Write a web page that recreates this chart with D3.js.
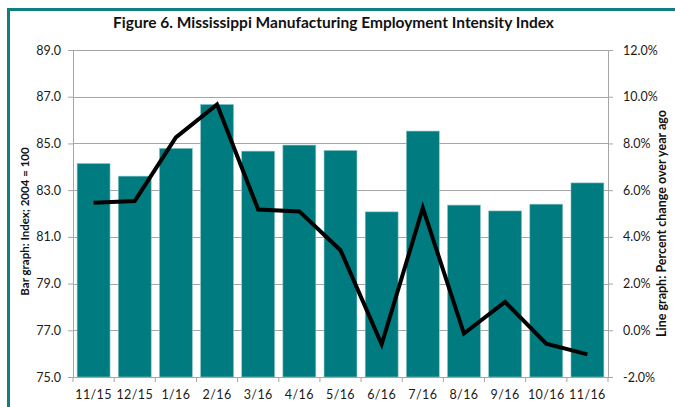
<!DOCTYPE html>
<html>
<head>
<meta charset="utf-8">
<script src="https://cdn.jsdelivr.net/npm/d3@7"></script>
<style>
  body { margin: 0; background: #fff; }
  svg { display: block; font-family: Lato, "Open Sans", sans-serif; }
</style>
</head>
<body>
<svg id="chart"></svg>
<script>
// months on the x axis
var months = ["11/15","12/15","1/16","2/16","3/16","4/16","5/16","6/16","7/16","8/16","9/16","10/16","11/16"];
// bar series: index, 2004 = 100
var indexValues = [84.14, 83.6, 84.79, 86.67, 84.67, 84.93, 84.7, 82.07, 85.53, 82.36, 82.11, 82.4, 83.31];
// line series: percent change over year ago
var pctChange = [5.46, 5.53, 8.26, 9.67, 5.17, 5.09, 3.43, -0.6, 5.24, -0.14, 1.21, -0.57, -1.03];
// axis ticks
var leftTicks = [75, 77, 79, 81, 83, 85, 87, 89];
var rightTicks = [-2, 0, 2, 4, 6, 8, 10, 12];

var width = 675, height = 407;
var plotLeft = 73, plotRight = 608, plotTop = 50, plotBottom = 377;
var teal = "#007b7f";

var svg = d3.select("#chart")
    .attr("width", width)
    .attr("height", height);

// teal frame (left and top edge)
svg.append("path")
    .attr("d", "M8.5," + height + "V9.5H" + width)
    .attr("fill", "none")
    .attr("stroke", "#0f7f80")
    .attr("stroke-width", 3);

var x = d3.scaleBand()
    .domain(months)
    .range([plotLeft, plotRight])
    .paddingInner(0.2)
    .paddingOuter(0.1);

var yLeft = d3.scaleLinear().domain([75, 89]).range([plotBottom, plotTop]);
var yRight = d3.scaleLinear().domain([-2, 12]).range([plotBottom, plotTop]);

// gridlines
svg.append("g")
    .selectAll("line")
    .data(leftTicks.slice(1))
    .enter()
    .append("line")
    .attr("x1", plotLeft)
    .attr("x2", plotRight)
    .attr("y1", function(d) { return Math.round(yLeft(d)) + 0.5; })
    .attr("y2", function(d) { return Math.round(yLeft(d)) + 0.5; })
    .attr("stroke", "#a6a6a6")
    .attr("stroke-width", 1);

// bars
svg.append("g")
    .selectAll("rect")
    .data(indexValues)
    .enter()
    .append("rect")
    .attr("x", function(d, i) { return x(months[i]); })
    .attr("y", function(d) { return yLeft(d); })
    .attr("width", x.bandwidth())
    .attr("height", function(d) { return yLeft(75) - yLeft(d); })
    .attr("fill", teal)
    .attr("stroke", "#8fc6c7")
    .attr("stroke-width", 0.6);

// left axis
var leftAxis = svg.append("g")
    .attr("transform", "translate(" + plotLeft + ",0)")
    .call(d3.axisLeft(yLeft).tickValues(leftTicks).tickSize(5).tickPadding(7)
        .tickFormat(d3.format(".1f")));

// right axis
var rightAxis = svg.append("g")
    .attr("transform", "translate(" + plotRight + ",0)")
    .call(d3.axisRight(yRight).tickValues(rightTicks).tickSize(5).tickPadding(10)
        .tickFormat(function(d) { return d.toFixed(1) + "%"; }));

// bottom axis, ticks at category boundaries
var bottomAxis = svg.append("g")
    .attr("transform", "translate(0," + plotBottom + ")")
    .call(d3.axisBottom(x).tickSize(0).tickPadding(13));

bottomAxis.selectAll(".boundary")
    .data(d3.range(months.length + 1))
    .enter()
    .append("line")
    .attr("class", "boundary")
    .attr("x1", function(i) { return plotLeft + i * x.step(); })
    .attr("x2", function(i) { return plotLeft + i * x.step(); })
    .attr("y1", 0)
    .attr("y2", 5)
    .attr("stroke", "#a6a6a6");

[leftAxis, rightAxis, bottomAxis].forEach(function(g) {
    g.selectAll(".domain").attr("stroke", "#a6a6a6");
    g.selectAll(".tick line").attr("stroke", "#a6a6a6");
    g.selectAll("text")
        .attr("fill", "#1a1a1a")
        .style("font-size", "12.5px")
        .style("font-family", "Lato, sans-serif");
});
bottomAxis.selectAll("text").style("font-size", "12.5px").style("letter-spacing", "0.4px");

// line series
var line = d3.line()
    .x(function(d, i) { return x(months[i]) + x.bandwidth() / 2; })
    .y(function(d) { return yRight(d); });

svg.append("path")
    .datum(pctChange)
    .attr("d", line)
    .attr("fill", "none")
    .attr("stroke", "#000")
    .attr("stroke-width", 4)
    .attr("stroke-linejoin", "miter");

// title
svg.append("text")
    .attr("x", (plotLeft + plotRight) / 2 - 7)
    .attr("y", 28)
    .attr("text-anchor", "middle")
    .style("font-size", "15.5px")
    .style("font-weight", "bold")
    .attr("fill", "#111")
    .text("Figure 6. Mississippi Manufacturing Employment Intensity Index");

// axis titles
var midY = (plotTop + plotBottom) / 2;
svg.append("text")
    .attr("transform", "translate(29," + (midY + 8) + ") rotate(-90)")
    .attr("text-anchor", "middle")
    .style("font-size", "11.5px")
    .style("font-weight", "bold")
    .attr("fill", "#111")
    .text("Bar graph: Index; 2004 = 100");

svg.append("text")
    .attr("transform", "translate(666," + (midY + 10) + ") rotate(-90)")
    .attr("text-anchor", "middle")
    .style("font-size", "12.5px")
    .style("font-weight", "bold")
    .attr("fill", "#111")
    .text("Line graph: Percent change over year ago");
</script>
</body>
</html>
